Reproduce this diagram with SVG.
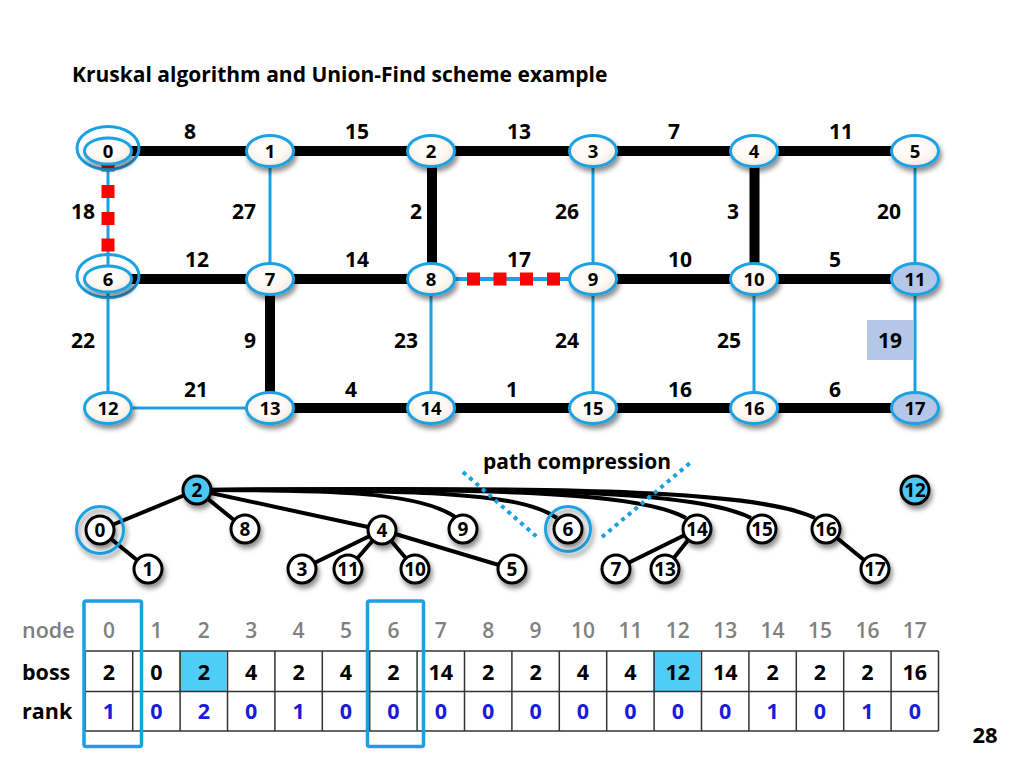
<svg xmlns="http://www.w3.org/2000/svg" width="1024" height="768" viewBox="0 0 1024 768">
<defs>
<filter id="sh" x="-40%" y="-40%" width="190%" height="200%"><feDropShadow dx="2" dy="4" stdDeviation="2.5" flood-color="#000" flood-opacity="0.45"/></filter>
<radialGradient id="ng" cx="45%" cy="40%" r="65%"><stop offset="0" stop-color="#ffffff"/><stop offset="0.6" stop-color="#fdf8f3"/><stop offset="1" stop-color="#f3e4d8"/></radialGradient>
<style>
text{font-family:"Open Sans","Liberation Sans",sans-serif;font-weight:700;text-anchor:middle;fill:#000}
.gn{fill:url(#ng);stroke:#1ba1e2;stroke-width:3;filter:url(#sh)}
.gs{fill:#b4c7e7;stroke:#1ba1e2;stroke-width:3;filter:url(#sh)}
.ring{fill:none;stroke:#1ba1e2;stroke-width:3}
.gl{font-size:18.5px}
.el{font-size:21px}
.bk{stroke:#000;stroke-width:10;fill:none}
.bl{stroke:#1ba1e2;stroke-width:3;fill:none}
.sq{fill:#ff0000}
.tn{fill:#fff;stroke:#000;stroke-width:3;filter:url(#sh)}
.tb{fill:#4dc8f4;stroke:#000;stroke-width:3;filter:url(#sh)}
.tl{font-size:19px}
.te{stroke:#000;stroke-width:4;fill:none}
.dot{stroke:#1ba1e2;stroke-width:4;stroke-dasharray:4 4.5;fill:none}
.hd{font-size:21px;fill:#808080;font-weight:600}
.bv{font-size:21.5px}
.rv{font-size:21.5px;fill:#1a1ad8}
.rl{font-size:21.5px;text-anchor:start}
.cell{fill:none;stroke:#333;stroke-width:1.5}
.sel{fill:none;stroke:#1ba1e2;stroke-width:3.5}
</style>
</defs>
<rect width="1024" height="768" fill="#fff"/>
<text x="72" y="82" style="text-anchor:start;font-size:21px">Kruskal algorithm and Union-Find scheme example</text>

<g id="connectors">
<line class="bk" x1="108" y1="151" x2="270" y2="151"/>
<line class="bk" x1="270" y1="151" x2="431" y2="151"/>
<line class="bk" x1="431" y1="151" x2="593" y2="151"/>
<line class="bk" x1="593" y1="151" x2="754" y2="151"/>
<line class="bk" x1="754" y1="151" x2="915" y2="151"/>
<line class="bk" x1="108" y1="279" x2="270" y2="279"/>
<line class="bk" x1="270" y1="279" x2="431" y2="279"/>
<line class="bl" x1="431" y1="279" x2="593" y2="279" style="stroke-width:4"/>
<line class="bk" x1="593" y1="279" x2="754" y2="279"/>
<line class="bk" x1="754" y1="279" x2="915" y2="279"/>
<line class="bl" x1="108" y1="408" x2="270" y2="408"/>
<line class="bk" x1="270" y1="408" x2="431" y2="408"/>
<line class="bk" x1="431" y1="408" x2="593" y2="408"/>
<line class="bk" x1="593" y1="408" x2="754" y2="408"/>
<line class="bk" x1="754" y1="408" x2="915" y2="408"/>
<line class="bl" x1="108" y1="151" x2="108" y2="279"/>
<line class="bl" x1="270" y1="151" x2="270" y2="279"/>
<line class="bk" x1="432" y1="151" x2="432" y2="279"/>
<line class="bl" x1="593" y1="151" x2="593" y2="279"/>
<line class="bk" x1="754.5" y1="151" x2="754.5" y2="279"/>
<line class="bl" x1="915" y1="151" x2="915" y2="279"/>
<line class="bl" x1="108" y1="279" x2="108" y2="408"/>
<line class="bk" x1="270" y1="279" x2="270" y2="408"/>
<line class="bl" x1="431" y1="279" x2="431" y2="408"/>
<line class="bl" x1="593" y1="279" x2="593" y2="408"/>
<line class="bl" x1="754" y1="279" x2="754" y2="408"/>
<line class="bl" x1="915" y1="279" x2="915" y2="408"/>
<rect class="sq" x="101.5" y="158.5" width="13" height="13"/>
<rect class="sq" x="101.5" y="185" width="13" height="13"/>
<rect class="sq" x="101.5" y="212" width="13" height="13"/>
<rect class="sq" x="101.5" y="238.5" width="13" height="13"/>
<rect class="sq" x="467" y="272.5" width="13" height="13"/>
<rect class="sq" x="493.5" y="272.5" width="13" height="13"/>
<rect class="sq" x="520" y="272.5" width="13" height="13"/>
<rect class="sq" x="547" y="272.5" width="13" height="13"/>
</g>

<g id="edge-labels">
<text class="el" x="190" y="139">8</text>
<text class="el" x="357" y="139">15</text>
<text class="el" x="519" y="139">13</text>
<text class="el" x="674" y="139">7</text>
<text class="el" x="841" y="139">11</text>
<text class="el" x="83" y="219">18</text>
<text class="el" x="244" y="219">27</text>
<text class="el" x="416" y="219">2</text>
<text class="el" x="567" y="219">26</text>
<text class="el" x="733" y="219">3</text>
<text class="el" x="889" y="219">20</text>
<text class="el" x="197" y="267">12</text>
<text class="el" x="357" y="267">14</text>
<text class="el" x="519" y="267">17</text>
<text class="el" x="680" y="267">10</text>
<text class="el" x="835" y="267">5</text>
<text class="el" x="83" y="348">22</text>
<text class="el" x="250" y="348">9</text>
<text class="el" x="406" y="348">23</text>
<text class="el" x="567" y="348">24</text>
<text class="el" x="729" y="348">25</text>
<rect x="867" y="320" width="46" height="40" fill="#b4c7e7"/>
<text class="el" x="890" y="348">19</text>
<text class="el" x="196" y="397">21</text>
<text class="el" x="351" y="397">4</text>
<text class="el" x="512" y="397">1</text>
<text class="el" x="680" y="397">16</text>
<text class="el" x="835" y="397">6</text>
</g>

<g id="graph-nodes">
<g id="g0"><ellipse class="ring" cx="108" cy="148" rx="31" ry="21.5"/><ellipse class="gn" cx="108" cy="151" rx="23.5" ry="13"/><text class="gl" x="108" y="157.5">0</text></g>
<g id="g1"><ellipse class="gn" cx="270" cy="151" rx="23.5" ry="15.5"/><text class="gl" x="270" y="157.5">1</text></g>
<g id="g2"><ellipse class="gn" cx="431" cy="151" rx="23.5" ry="15.5"/><text class="gl" x="431" y="157.5">2</text></g>
<g id="g3"><ellipse class="gn" cx="593" cy="151" rx="23.5" ry="15.5"/><text class="gl" x="593" y="157.5">3</text></g>
<g id="g4"><ellipse class="gn" cx="754" cy="151" rx="23.5" ry="15.5"/><text class="gl" x="754" y="157.5">4</text></g>
<g id="g5"><ellipse class="gn" cx="915" cy="151" rx="23.5" ry="15.5"/><text class="gl" x="915" y="157.5">5</text></g>
<g id="g6"><ellipse class="ring" cx="108" cy="276" rx="31" ry="21.5"/><ellipse class="gn" cx="108" cy="279" rx="23.5" ry="13"/><text class="gl" x="108" y="285.5">6</text></g>
<g id="g7"><ellipse class="gn" cx="270" cy="279" rx="23.5" ry="15.5"/><text class="gl" x="270" y="285.5">7</text></g>
<g id="g8"><ellipse class="gn" cx="431" cy="279" rx="23.5" ry="15.5"/><text class="gl" x="431" y="285.5">8</text></g>
<g id="g9"><ellipse class="gn" cx="593" cy="279" rx="23.5" ry="15.5"/><text class="gl" x="593" y="285.5">9</text></g>
<g id="g10"><ellipse class="gn" cx="754" cy="279" rx="23.5" ry="15.5"/><text class="gl" x="754" y="285.5">10</text></g>
<g id="g11"><ellipse class="gs" cx="915" cy="279" rx="23.5" ry="15.5"/><text class="gl" x="915" y="285.5">11</text></g>
<g id="g12"><ellipse class="gn" cx="108" cy="408" rx="23.5" ry="15.5"/><text class="gl" x="108" y="414.5">12</text></g>
<g id="g13"><ellipse class="gn" cx="270" cy="408" rx="23.5" ry="15.5"/><text class="gl" x="270" y="414.5">13</text></g>
<g id="g14"><ellipse class="gn" cx="431" cy="408" rx="23.5" ry="15.5"/><text class="gl" x="431" y="414.5">14</text></g>
<g id="g15"><ellipse class="gn" cx="593" cy="408" rx="23.5" ry="15.5"/><text class="gl" x="593" y="414.5">15</text></g>
<g id="g16"><ellipse class="gn" cx="754" cy="408" rx="23.5" ry="15.5"/><text class="gl" x="754" y="414.5">16</text></g>
<g id="g17"><ellipse class="gs" cx="915" cy="408" rx="23.5" ry="15.5"/><text class="gl" x="915" y="414.5">17</text></g>
</g>

<text x="577" y="469" style="font-size:21px">path compression</text>
<g id="tree-connectors">
<line class="te" x1="197" y1="490" x2="100" y2="530"/>
<line class="te" x1="100" y1="530" x2="148" y2="569"/>
<line class="te" x1="197" y1="490" x2="245" y2="529"/>
<line class="te" x1="197" y1="490" x2="382" y2="530"/>
<line class="te" x1="382" y1="530" x2="302" y2="569"/>
<line class="te" x1="382" y1="530" x2="348" y2="569"/>
<line class="te" x1="382" y1="530" x2="415" y2="569"/>
<line class="te" x1="382" y1="530" x2="512" y2="569"/>
<line class="te" x1="697" y1="529" x2="616" y2="569"/>
<line class="te" x1="697" y1="529" x2="665" y2="569"/>
<line class="te" x1="826" y1="529" x2="875" y2="569"/>
<path class="te" d="M197,490 C330,490 420,492 455,517"/>
<path class="te" d="M197,490 C420,490 520,492 557,518"/>
<path class="te" d="M197,490 C500,488 640,492 686,518"/>
<path class="te" d="M197,490 C550,487 700,492 751,518"/>
<path class="te" d="M197,490 C600,486 760,492 815,518"/>
<line class="dot" x1="463" y1="472" x2="537" y2="537"/>
<line class="dot" x1="602" y1="537" x2="690" y2="463"/>
</g>
<g id="tree-nodes">
<g id="t2"><circle class="tb" cx="197" cy="490" r="14"/><text class="tl" x="197" y="497">2</text></g>
<g id="t0"><circle class="ring" cx="100" cy="530" r="23.5" style="filter:url(#sh)"/><circle class="tn" cx="100" cy="530" r="14"/><text class="tl" x="100" y="537">0</text></g>
<g id="t1"><circle class="tn" cx="148" cy="569" r="14"/><text class="tl" x="148" y="576">1</text></g>
<g id="t8"><circle class="tn" cx="245" cy="529" r="14"/><text class="tl" x="245" y="536">8</text></g>
<g id="t4"><circle class="tn" cx="382" cy="530" r="14"/><text class="tl" x="382" y="537">4</text></g>
<g id="t9"><circle class="tn" cx="463" cy="529" r="14"/><text class="tl" x="463" y="536">9</text></g>
<g id="t3"><circle class="tn" cx="302" cy="569" r="14"/><text class="tl" x="302" y="576">3</text></g>
<g id="t11"><circle class="tn" cx="348" cy="569" r="14"/><text class="tl" x="348" y="576">11</text></g>
<g id="t10"><circle class="tn" cx="415" cy="569" r="14"/><text class="tl" x="415" y="576">10</text></g>
<g id="t5"><circle class="tn" cx="512" cy="569" r="14"/><text class="tl" x="512" y="576">5</text></g>
<g id="t6"><circle class="ring" cx="568" cy="529" r="22.5" style="filter:url(#sh)"/><circle class="tn" cx="568" cy="529" r="14"/><text class="tl" x="568" y="536">6</text></g>
<g id="t14"><circle class="tn" cx="697" cy="529" r="14"/><text class="tl" x="697" y="536">14</text></g>
<g id="t15"><circle class="tn" cx="762" cy="529" r="14"/><text class="tl" x="762" y="536">15</text></g>
<g id="t16"><circle class="tn" cx="826" cy="529" r="14"/><text class="tl" x="826" y="536">16</text></g>
<g id="t12"><circle class="tb" cx="915" cy="490" r="14"/><text class="tl" x="915" y="497">12</text></g>
<g id="t7"><circle class="tn" cx="616" cy="569" r="14"/><text class="tl" x="616" y="576">7</text></g>
<g id="t13"><circle class="tn" cx="665" cy="569" r="14"/><text class="tl" x="665" y="576">13</text></g>
<g id="t17"><circle class="tn" cx="875" cy="569" r="14"/><text class="tl" x="875" y="576">17</text></g>
</g>

<g id="table">
<rect x="179.1" y="651" width="47.4" height="40.5" fill="#4fcdf6"/>
<rect x="653.1" y="651" width="47.4" height="40.5" fill="#4fcdf6"/>
<line class="cell" x1="85.3" y1="651" x2="938.5" y2="651"/>
<line class="cell" x1="85.3" y1="691.5" x2="938.5" y2="691.5"/>
<line class="cell" x1="85.3" y1="731" x2="938.5" y2="731"/>
<line class="cell" x1="85.3" y1="651" x2="85.3" y2="731"/>
<line class="cell" x1="132.7" y1="651" x2="132.7" y2="731"/>
<line class="cell" x1="180.1" y1="651" x2="180.1" y2="731"/>
<line class="cell" x1="227.5" y1="651" x2="227.5" y2="731"/>
<line class="cell" x1="274.9" y1="651" x2="274.9" y2="731"/>
<line class="cell" x1="322.3" y1="651" x2="322.3" y2="731"/>
<line class="cell" x1="369.7" y1="651" x2="369.7" y2="731"/>
<line class="cell" x1="417.1" y1="651" x2="417.1" y2="731"/>
<line class="cell" x1="464.5" y1="651" x2="464.5" y2="731"/>
<line class="cell" x1="511.9" y1="651" x2="511.9" y2="731"/>
<line class="cell" x1="559.3" y1="651" x2="559.3" y2="731"/>
<line class="cell" x1="606.7" y1="651" x2="606.7" y2="731"/>
<line class="cell" x1="654.1" y1="651" x2="654.1" y2="731"/>
<line class="cell" x1="701.5" y1="651" x2="701.5" y2="731"/>
<line class="cell" x1="748.9" y1="651" x2="748.9" y2="731"/>
<line class="cell" x1="796.3" y1="651" x2="796.3" y2="731"/>
<line class="cell" x1="843.7" y1="651" x2="843.7" y2="731"/>
<line class="cell" x1="891.1" y1="651" x2="891.1" y2="731"/>
<line class="cell" x1="938.5" y1="651" x2="938.5" y2="731"/>
<text class="rl hd" x="22" y="638" style="text-anchor:start">node</text>
<text class="rl" x="22" y="680">boss</text>
<text class="rl" x="22" y="719">rank</text>
<text class="hd" x="109" y="638">0</text><text class="hd" x="156.4" y="638">1</text><text class="hd" x="203.8" y="638">2</text><text class="hd" x="251.2" y="638">3</text><text class="hd" x="298.6" y="638">4</text><text class="hd" x="346" y="638">5</text><text class="hd" x="393.4" y="638">6</text><text class="hd" x="440.8" y="638">7</text><text class="hd" x="488.2" y="638">8</text><text class="hd" x="535.6" y="638">9</text><text class="hd" x="583" y="638">10</text><text class="hd" x="630.4" y="638">11</text><text class="hd" x="677.8" y="638">12</text><text class="hd" x="725.2" y="638">13</text><text class="hd" x="772.6" y="638">14</text><text class="hd" x="820" y="638">15</text><text class="hd" x="867.4" y="638">16</text><text class="hd" x="914.8" y="638">17</text>
<text class="bv" x="109" y="680">2</text><text class="bv" x="156.4" y="680">0</text><text class="bv" x="203.8" y="680">2</text><text class="bv" x="251.2" y="680">4</text><text class="bv" x="298.6" y="680">2</text><text class="bv" x="346" y="680">4</text><text class="bv" x="393.4" y="680">2</text><text class="bv" x="440.8" y="680">14</text><text class="bv" x="488.2" y="680">2</text><text class="bv" x="535.6" y="680">2</text><text class="bv" x="583" y="680">4</text><text class="bv" x="630.4" y="680">4</text><text class="bv" x="677.8" y="680">12</text><text class="bv" x="725.2" y="680">14</text><text class="bv" x="772.6" y="680">2</text><text class="bv" x="820" y="680">2</text><text class="bv" x="867.4" y="680">2</text><text class="bv" x="914.8" y="680">16</text>
<text class="rv" x="109" y="719">1</text><text class="rv" x="156.4" y="719">0</text><text class="rv" x="203.8" y="719">2</text><text class="rv" x="251.2" y="719">0</text><text class="rv" x="298.6" y="719">1</text><text class="rv" x="346" y="719">0</text><text class="rv" x="393.4" y="719">0</text><text class="rv" x="440.8" y="719">0</text><text class="rv" x="488.2" y="719">0</text><text class="rv" x="535.6" y="719">0</text><text class="rv" x="583" y="719">0</text><text class="rv" x="630.4" y="719">0</text><text class="rv" x="677.8" y="719">0</text><text class="rv" x="725.2" y="719">0</text><text class="rv" x="772.6" y="719">1</text><text class="rv" x="820" y="719">0</text><text class="rv" x="867.4" y="719">1</text><text class="rv" x="914.8" y="719">0</text>
<rect class="sel" x="84" y="601" width="57.5" height="145.5" rx="2"/>
<rect class="sel" x="367.5" y="601" width="56" height="145.5" rx="2"/>
</g>
<text x="985" y="743" style="font-size:22px">28</text>
</svg>
